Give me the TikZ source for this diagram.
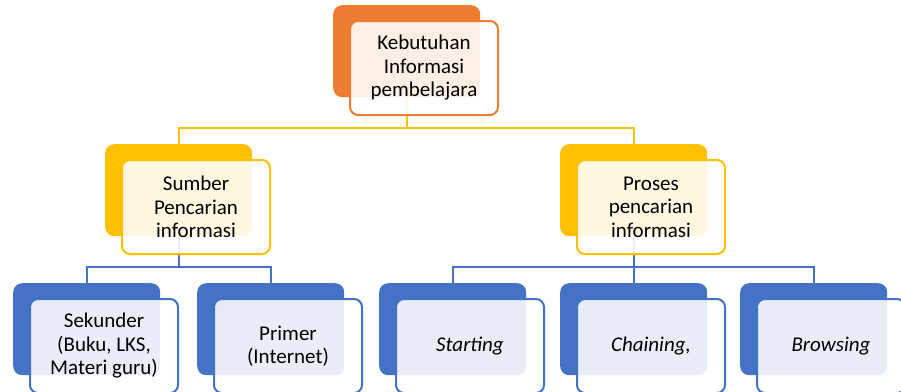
\documentclass[tikz,border=0pt]{standalone}
\usepackage{fontspec}
\setmainfont{Carlito}
\usetikzlibrary{backgrounds}
\definecolor{corange}{HTML}{ED7D31}
\definecolor{cyellow}{HTML}{FFC000}
\definecolor{cblue}{HTML}{4472C4}
\tikzset{
  backbox/.style={rounded corners=9pt, minimum width=147pt, minimum height=92pt, inner sep=0pt, anchor=north west, fill=#1},
  frontbox/.style={rounded corners=8pt, minimum width=148pt, minimum height=94pt, inner sep=0pt, anchor=north west, fill=white, fill opacity=0.88, text opacity=1, draw=#1, line width=2pt, align=center, font=\fontsize{21}{23.5}\selectfont},
  conn/.style={line width=2pt, draw=#1},
}
\begin{document}
\begin{tikzpicture}[x=1pt,y=-1pt]
\useasboundingbox (0,0) rectangle (901,391);
% level 1
\node[backbox=corange] (topB) at (333,5) {};
\node[frontbox=corange] (topF) at (349,20) {Kebutuhan\\Informasi\\pembelajara};
% level 2
\node[backbox=cyellow] (sumB) at (105,144) {};
\node[frontbox=cyellow] (sumF) at (121,159) {Sumber\\Pencarian\\informasi};
\node[backbox=cyellow] (proB) at (560,144) {};
\node[frontbox=cyellow] (proF) at (576,159) {Proses\\pencarian\\informasi};
% level 3
\node[backbox=cblue] (sekB) at (13,283) {};
\node[frontbox=cblue] (sekF) at (29,298) {Sekunder\\(Buku, LKS,\\Materi guru)};
\node[backbox=cblue] (priB) at (197,283) {};
\node[frontbox=cblue] (priF) at (213,298) {Primer\\(Internet)};
\node[backbox=cblue] (staB) at (379,283) {};
\node[frontbox=cblue] (staF) at (395,298) {\itshape Starting};
\node[backbox=cblue] (chaB) at (560,283) {};
\node[frontbox=cblue] (chaF) at (576,298) {\itshape Chaining,};
\node[backbox=cblue] (broB) at (740,283) {};
\node[frontbox=cblue] (broF) at (756,298) {\itshape Browsing};
\coordinate (y1) at (0,128);
\coordinate (y2) at (0,267);
\begin{scope}[on background layer]
\draw[conn=cyellow] (topB.south) -- (topB.south |- y1) -| (sumB.north);
\draw[conn=cyellow] (topB.south |- y1) -| (proB.north);
\draw[conn=cblue] (sumB.south) -- (sumB.south |- y2) -| (sekB.north);
\draw[conn=cblue] (sumB.south |- y2) -| (priB.north);
\draw[conn=cblue] (proB.south) -- (proB.south |- y2) -| (staB.north);
\draw[conn=cblue] (proB.south |- y2) -| (broB.north);
\draw[conn=cblue] (proB.south |- y2) -- (chaB.north);
\end{scope}
\end{tikzpicture}
\end{document}
